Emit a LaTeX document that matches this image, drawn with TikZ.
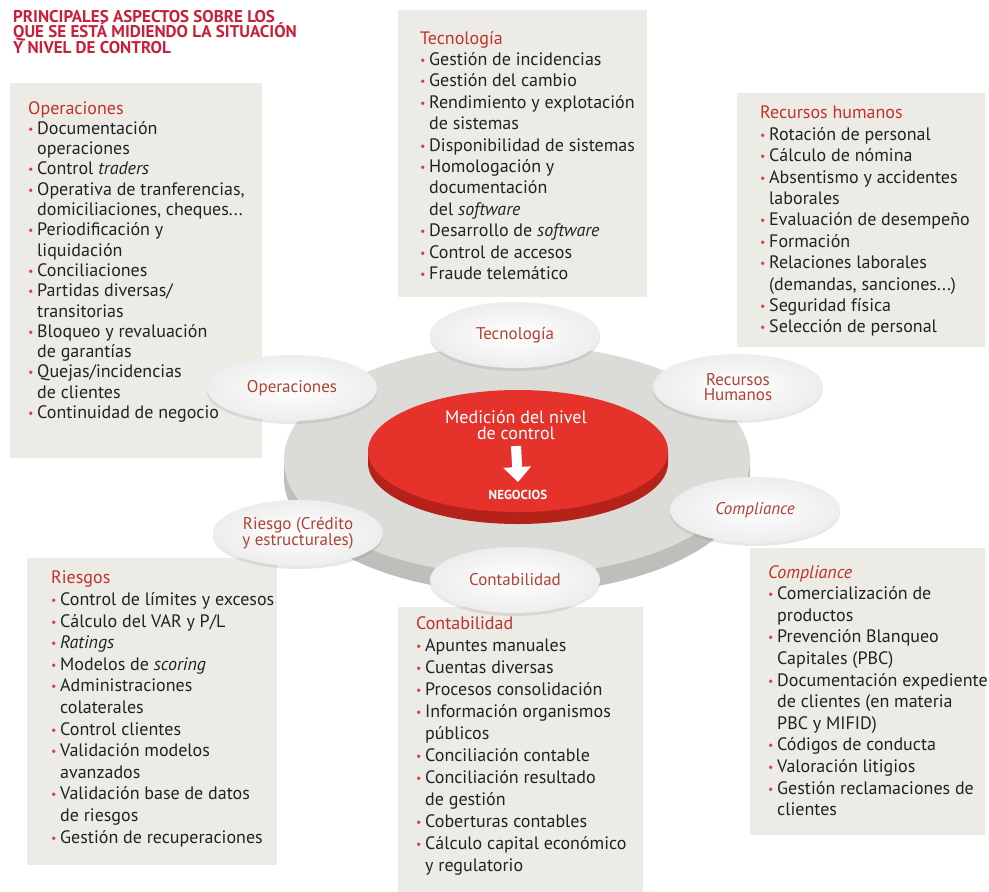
\documentclass[tikz,border=0pt]{standalone}
\usepackage{fontspec}
\setmainfont{PT Sans}
\usepackage{tikz}
\usetikzlibrary{positioning, shapes.geometric, shadows, arrows.meta}

\definecolor{titlered}{HTML}{C8203A}
\definecolor{headred}{HTML}{C0322C}
\definecolor{dotred}{HTML}{D9453E}
\definecolor{satred}{HTML}{AE4233}
\definecolor{panelgray}{HTML}{ECEBE5}
\definecolor{diskgray}{HTML}{DBDBD7}
\definecolor{diskside}{HTML}{BEBEBA}
\definecolor{redtop}{HTML}{E5332B}
\definecolor{redside}{HTML}{B52219}
\definecolor{textgray}{HTML}{222222}

\newcommand{\bul}{\makebox[9pt][l]{\raisebox{1pt}{\textcolor{dotred}{\fontsize{12}{12}\selectfont\textbullet}}}}
\newcommand{\sig}{\hspace*{9pt}}
\newcommand{\hd}[1]{\textcolor{headred}{#1}}
\newcommand{\tightlines}{\lineskiplimit=-20pt\relax}

\tikzset{
    panel/.style={fill=panelgray, inner sep=0pt, anchor=north west},
    list/.style={anchor=north west, align=left, inner sep=0pt, text=textgray,
        font=\fontsize{18}{#1}\selectfont\tightlines},
    list/.default=21.4,
    sat/.style={ellipse, inner sep=0pt, minimum width=170pt, minimum height=66pt,
        shading=radial, inner color=white, outer color=black!7,
        drop shadow={shadow xshift=0pt, shadow yshift=-3pt, opacity=0.18},
        text=satred, align=center, font=\fontsize{17}{15.5}\selectfont\tightlines},
    fatarrow/.style={white, line width=10pt, -{Triangle[width=27pt,length=15pt]}}
}

\begin{document}
\begin{tikzpicture}[x=1pt, y=-1pt]
        \useasboundingbox (0,0) rectangle (989,892);
        \fill[white] (0,0) rectangle (989,892);

        % title
        \node[anchor=north west, align=left, inner sep=0pt, text=titlered,
            font=\bfseries\fontsize{17}{15.5}\selectfont\tightlines] (title) at (13,10)
            {PRINCIPALES ASPECTOS SOBRE LOS\\QUE SE ESTÁ MIDIENDO LA SITUACIÓN\\Y NIVEL DE CONTROL};

        % panels
        \node[panel, minimum width=252pt, minimum height=375pt] (opbox) at (10,83) {};
        \node[panel, minimum width=249pt, minimum height=287pt] (tecbox) at (398,10) {};
        \node[panel, minimum width=248pt, minimum height=254pt] (rhbox) at (737,93) {};
        \node[panel, minimum width=250pt, minimum height=307pt] (riebox) at (27,558) {};
        \node[panel, minimum width=245pt, minimum height=285pt] (conbox) at (398,607) {};
        \node[panel, minimum width=235pt, minimum height=287pt] (combox) at (750,548) {};

        \node[list=20.3] (optext) at (28,101) {\hd{Operaciones}\\
            \bul Documentación\\ \sig operaciones\\
            \bul Control \textit{traders}\\
            \bul Operativa de tranferencias,\\ \sig domiciliaciones, cheques...\\
            \bul Periodificación y\\ \sig liquidación\\
            \bul Conciliaciones\\
            \bul Partidas diversas/\\ \sig transitorias\\
            \bul Bloqueo y revaluación\\ \sig de garantías\\
            \bul Quejas/incidencias\\ \sig de clientes\\
            \bul Continuidad de negocio};
        \node[list] (tectext) at (420,31) {\hd{Tecnología}\\
            \bul Gestión de incidencias\\
            \bul Gestión del cambio\\
            \bul Rendimiento y explotación\\ \sig de sistemas\\
            \bul Disponibilidad de sistemas\\
            \bul Homologación y\\ \sig documentación\\ \sig del \textit{software}\\
            \bul Desarrollo de \textit{software}\\
            \bul Control de accesos\\
            \bul Fraude telemático};
        \node[list] (rhtext) at (760,106) {\hd{Recursos humanos}\\
            \bul Rotación de personal\\
            \bul Cálculo de nómina\\
            \bul Absentismo y accidentes\\ \sig laborales\\
            \bul Evaluación de desempeño\\
            \bul Formación\\
            \bul Relaciones laborales\\ \sig (demandas, sanciones...)\\
            \bul Seguridad física\\
            \bul Selección de personal};
        \node[list=21.6] (rietext) at (51,571) {\hd{Riesgos}\\
            \bul Control de límites y excesos\\
            \bul Cálculo del VAR y P/L\\
            \bul \textit{Ratings}\\
            \bul Modelos de \textit{scoring}\\
            \bul Administraciones\\ \sig colaterales\\
            \bul Control clientes\\
            \bul Validación modelos\\ \sig avanzados\\
            \bul Validación base de datos\\ \sig de riesgos\\
            \bul Gestión de recuperaciones};
        \node[list=22] (context) at (416,616) {\hd{Contabilidad}\\
            \bul Apuntes manuales\\
            \bul Cuentas diversas\\
            \bul Procesos consolidación\\
            \bul Información organismos\\ \sig públicos\\
            \bul Conciliación contable\\
            \bul Conciliación resultado\\ \sig de gestión\\
            \bul Coberturas contables\\
            \bul Cálculo capital económico\\ \sig y regulatorio};
        \node[list=21.6] (comtext) at (768,565) {\hd{\textit{Compliance}}\\
            \bul Comercialización de\\ \sig productos\\
            \bul Prevención Blanqueo\\ \sig Capitales (PBC)\\
            \bul Documentación expediente\\ \sig de clientes (en materia\\ \sig PBC y MIFID)\\
            \bul Códigos de conducta\\
            \bul Valoración litigios\\
            \bul Gestión reclamaciones de\\ \sig clientes};

        % grey base disk
        \fill[diskside] (284,460) -- (284,478) arc[start angle=180, end angle=0, x radius=233, y radius=115] -- (750,460) -- cycle;
        \fill[diskgray] (517,460) ellipse [x radius=233, y radius=115];

        % red disk
        \fill[redside] (368,451) -- (368,463) arc[start angle=180, end angle=0, x radius=150, y radius=61] -- (668,451) -- cycle;
        \fill[redtop] (518,451) ellipse [x radius=150, y radius=61];

        \node[align=center, text=white, inner sep=0pt, font=\fontsize{18}{16.5}\selectfont\tightlines] (med) at (516,425) {Medición del nivel\\de control};
        \node[text=white, inner sep=0pt, font=\bfseries\fontsize{13}{13}\selectfont] (neg) at (518,495) {NEGOCIOS};
        \draw[fatarrow] ([yshift=-6pt]med.south) -- ([yshift=8pt]neg.north);

        % satellites
        \node[sat] (tec) at (515,335) {Tecnología};
        \node[sat] (ope) at (292,388) {Operaciones};
        \node[sat] (rh) at (738,387) {Recursos\\Humanos};
        \node[sat] (com) at (755,510) {\itshape Compliance};
        \node[sat] (rie) at (298,533) {Riesgo (Crédito\\y estructurales)};
        \node[sat] (con) at (515,580) {Contabilidad};
    \end{tikzpicture}
\end{document}
